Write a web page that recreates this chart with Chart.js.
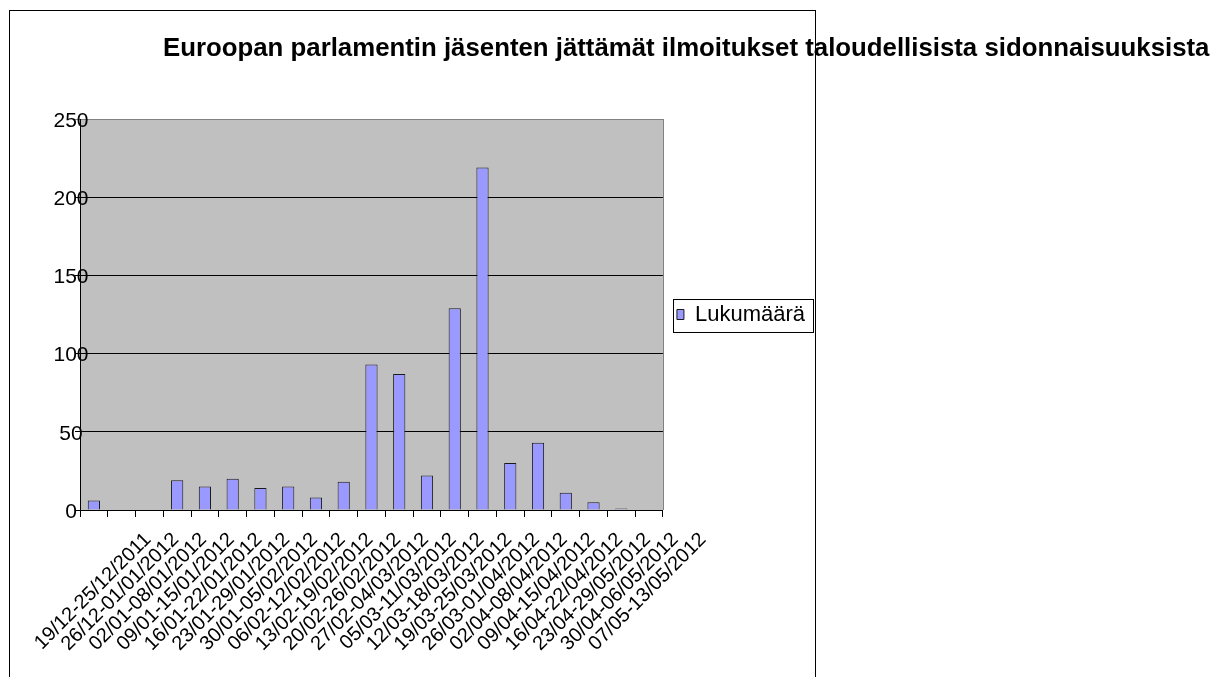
<!DOCTYPE html>
<html>
<head>
<meta charset="utf-8">
<script src="https://cdn.jsdelivr.net/npm/chart.js@4.4.0/dist/chart.umd.min.js"></script>
<style>
  body { margin: 0; background: #fff; }
  canvas { display: block; }
</style>
</head>
<body>
<canvas id="myChart" width="1213" height="677"></canvas>
<script>
const titleText = "Euroopan parlamentin jäsenten jättämät ilmoitukset taloudellisista sidonnaisuuksista";
const seriesName = "Lukumäärä";

const weeks = [
  "19/12-25/12/2011", "26/12-01/01/2012", "02/01-08/01/2012", "09/01-15/01/2012",
  "16/01-22/01/2012", "23/01-29/01/2012", "30/01-05/02/2012", "06/02-12/02/2012",
  "13/02-19/02/2012", "20/02-26/02/2012", "27/02-04/03/2012", "05/03-11/03/2012",
  "12/03-18/03/2012", "19/03-25/03/2012", "26/03-01/04/2012", "02/04-08/04/2012",
  "09/04-15/04/2012", "16/04-22/04/2012", "23/04-29/05/2012", "30/04-06/05/2012",
  "07/05-13/05/2012"
];
const counts = [6, 0, 0, 19, 15, 20, 14, 15, 8, 18, 93, 87, 22, 129, 219, 30, 43, 11, 5, 1, 0];
const yTicks = [0, 50, 100, 150, 200, 250];

const FONT = "'Liberation Sans', Arial, sans-serif";

// plot background, frame, title, legend box, y labels (they overlap the axis line)
const decor = {
  id: "decor",
  beforeDraw(chart) {
    const { ctx, chartArea: a } = chart;
    ctx.save();
    ctx.fillStyle = "#C0C0C0";
    ctx.fillRect(a.left, a.top, a.right - a.left, a.bottom - a.top);
    ctx.restore();
  },
  afterDraw(chart) {
    const { ctx, chartArea: a } = chart;
    const ys = chart.scales.y;
    ctx.save();
    // right border of plot
    ctx.strokeStyle = "#808080";
    ctx.lineWidth = 1;
    ctx.beginPath();
    ctx.moveTo(Math.round(a.right) + 0.5, a.top);
    ctx.lineTo(Math.round(a.right) + 0.5, a.bottom);
    ctx.stroke();
    // outer frame
    ctx.strokeStyle = "#000";
    ctx.strokeRect(9.5, 10.5, 806, 700);
    // legend border
    const hb = chart.legend.legendHitBoxes[0];
    if (hb) {
      const cy = hb.top + hb.height / 2;
      ctx.strokeRect(Math.round(hb.left) - 3.5, Math.round(cy - 16) + 0.5, 140, 33);
    }
    // y tick labels, centred a little left of the axis
    ctx.fillStyle = "#000";
    ctx.font = "21px " + FONT;
    ctx.textAlign = "center";
    ctx.textBaseline = "middle";
    ys.ticks.forEach(t => {
      ctx.fillText(String(t.value), ys.right - 9, ys.getPixelForValue(t.value) + 2);
    });
    // title
    ctx.font = "bold 25.8px " + FONT;
    ctx.textBaseline = "alphabetic";
    ctx.textAlign = "left";
    ctx.fillText(titleText, 163, 56);
    ctx.restore();
  }
};

const data = {
  labels: weeks,
  datasets: [
    {
      label: seriesName,
      data: counts,
      backgroundColor: "#9999FF",
      borderColor: "#1a1a1a",
      borderWidth: 1,
      categoryPercentage: 1,
      barPercentage: 0.44,
    },
  ],
};

const config = {
  type: "bar",
  data: data,
  plugins: [decor],
  options: {
    responsive: false,
    animation: false,
    layout: {
      padding: { left: 10, top: 119, right: 398, bottom: 0 },
    },
    plugins: {
      title: { display: false },
      tooltip: { enabled: false },
      legend: {
        position: "right",
        fullSize: false,
        labels: {
          boxWidth: 7,
          boxHeight: 10,
          padding: 14,
          color: "#000",
          font: { family: FONT, size: 22 },
        },
      },
    },
    scales: {
      x: {
        afterFit(scale) {
          scale.height = 167;
          scale.paddingLeft = 0;
          scale.paddingRight = 0;
        },
        border: { display: true, color: "#000", width: 1 },
        grid: {
          display: true,
          drawOnChartArea: false,
          drawTicks: true,
          tickLength: 7,
          color: "#000",
          offset: true,
        },
        ticks: {
          autoSkip: false,
          maxRotation: 45,
          minRotation: 45,
          labelOffset: 54,
          padding: 11,
          color: "#000",
          font: { family: FONT, size: 20 },
        },
      },
      y: {
        min: 0,
        max: 250,
        afterFit(scale) {
          scale.width = 70;
          scale.paddingTop = 0;
          scale.paddingBottom = 0;
        },
        afterBuildTicks(scale) { scale.ticks = yTicks.map(v => ({ value: v })); },
        border: { display: true, color: "#000", width: 1 },
        grid: {
          color: (c) => (c.tick && c.tick.value === 250 ? "#808080" : "#000"),
          lineWidth: 1,
          drawTicks: true,
          tickLength: 5,
        },
        ticks: {
          display: false,
        },
      },
    },
  },
};
const myChart = new Chart(document.getElementById("myChart"), config);
</script>
</body>
</html>
